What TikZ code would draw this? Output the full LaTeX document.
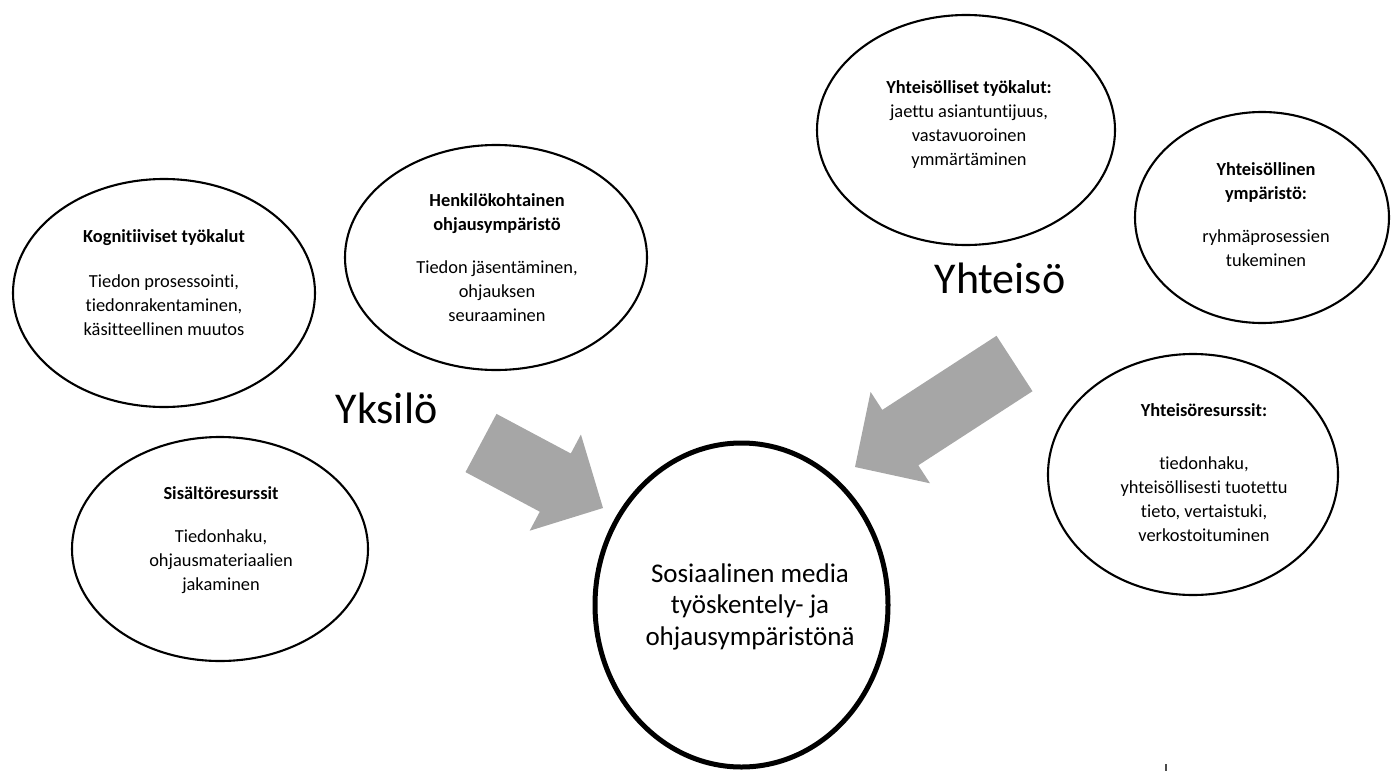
\documentclass[tikz,border=0pt]{standalone}
\usepackage{fontspec}
\setmainfont{Carlito}[Ligatures={NoCommon}]
\usetikzlibrary{shapes.geometric}
\definecolor{arrowgray}{RGB}{166,166,166}
\begin{document}
\begin{tikzpicture}[x=1pt,y=-1pt,
  bubble/.style={draw=black, ellipse, line width=2.1pt, inner sep=0pt},
  hub/.style={draw=black, ellipse, line width=5pt, inner sep=0pt},
  txt/.style={align=center, inner sep=0pt, font=\fontsize{18.4}{24}\selectfont},
  hubtxt/.style={align=center, inner sep=0pt, font=\fontsize{27}{31.5}\selectfont},
  big/.style={inner sep=0pt, font=\fontsize{44}{50}\selectfont, anchor=base},
  blockarrow/.style={fill=arrowgray, draw=none}]
\useasboundingbox (0,0) rectangle (1391,771);

% block arrows
\fill[blockarrow] (496.5,413.9) -- (570.8,453.5) -- (580.9,434.5) -- (603,508)
  -- (529.7,530.7) -- (539.8,511.7) -- (465.5,472.1) -- cycle;
\fill[blockarrow] (996.5,335.8) -- (1032.5,391.2) -- (918.3,465.3) -- (930,483.3)
  -- (855,467) -- (870.6,391.9) -- (882.3,409.9) -- cycle;

% ellipses
\node[bubble, minimum width=302pt, minimum height=228pt] (kog) at (164,293) {};
\node[txt] (kogt) at (164,283) {\textbf{Kognitiiviset työkalut}\\[21pt]
  Tiedon prosessointi,\\ tiedonrakentaminen,\\ käsitteellinen muutos};

\node[bubble, minimum width=302pt, minimum height=225pt] (hen) at (496,257.5) {};
\node[txt] (hent) at (497,257.5) {\textbf{Henkilökohtainen}\\ \textbf{ohjausympäristö}\\[19pt]
  Tiedon jäsentäminen,\\ ohjauksen\\ seuraaminen};

\node[bubble, minimum width=296pt, minimum height=224pt] (sis) at (220,549) {};
\node[txt] (sist) at (221,540) {\textbf{Sisältöresurssit}\\[19pt]
  Tiedonhaku,\\ ohjausmateriaalien\\ jakaminen};

\node[bubble, minimum width=298pt, minimum height=230pt] (yty) at (966,130) {};
\node[txt] (ytyt) at (969,124.5) {\textbf{Yhteisölliset työkalut:}\\
  jaettu asiantuntijuus,\\ vastavuoroinen\\ ymmärtäminen};

\node[bubble, minimum width=254pt, minimum height=211pt] (yym) at (1262,217.5) {};
\node[txt] (yymt) at (1266,214.5) {\textbf{Yhteisöllinen}\\ \textbf{ympäristö:}\\[19pt]
  ryhmäprosessien\\ tukeminen};

\node[bubble, minimum width=290pt, minimum height=241pt] (yre) at (1193,474.5) {};
\node[txt] (yret) at (1204,473) {\textbf{Yhteisöresurssit:}\\[29pt]
  tiedonhaku,\\ yhteisöllisesti tuotettu\\ tieto, vertaistuki,\\ verkostoituminen};

% central node
\node[hub, minimum width=293pt, minimum height=324pt] (hub) at (741.5,605) {};
\node[hubtxt] (hubt) at (750,606.5) {Sosiaalinen media\\ työskentely- ja\\ ohjausympäristönä};

% group labels
\node[big] (yks) at (386.5,423) {Yksilö};
\node[big] (yht) at (1000,293) {Yhteisö};

% small stray mark
\draw[line width=2pt, black!70] (1166,764) -- (1166,771);
\end{tikzpicture}
\end{document}
